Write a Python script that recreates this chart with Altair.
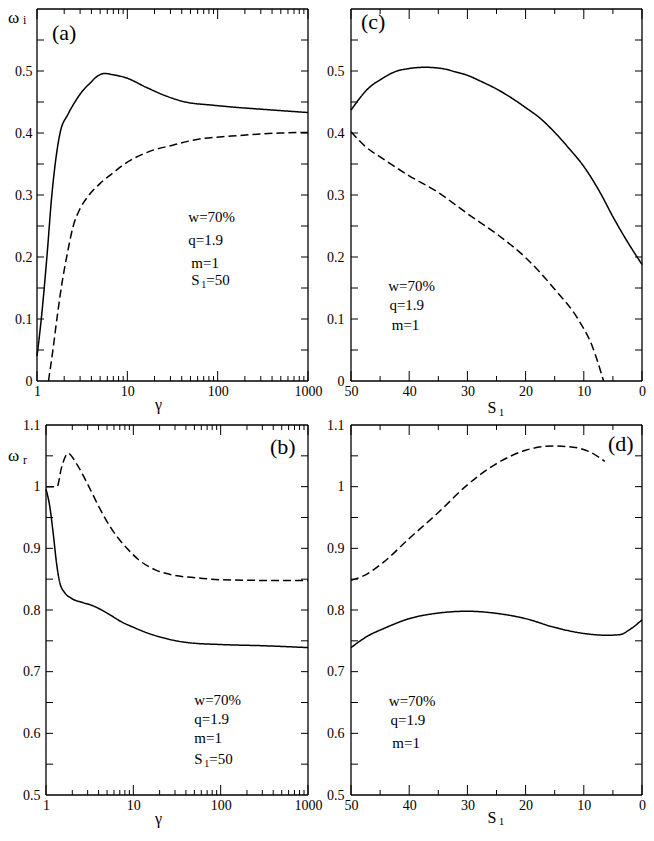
import altair as alt
import pandas as pd

FONT = "Liberation Serif, Times New Roman, serif"

# ---------------- data ----------------
# (a) omega_i versus gamma (S1 = 50)
a_solid_g = [1.0, 1.115, 1.287, 1.46, 1.59, 1.80, 2.2, 2.63, 3.2, 3.84, 4.7, 5.6, 6.9, 9.7, 16, 26.5, 44, 86, 142, 330, 1000]
a_solid_w = [0.04, 0.10, 0.20, 0.30, 0.35, 0.40, 0.43, 0.45, 0.468, 0.48, 0.492, 0.496, 0.494, 0.489, 0.474, 0.46, 0.45, 0.445, 0.442, 0.438, 0.433]
a_dash_g = [1.34, 1.5, 1.66, 1.9, 2.13, 2.52, 3.0, 3.68, 4.94, 7.0, 9.3, 17.4, 31, 61, 142, 500, 1000]
a_dash_w = [0.0, 0.05, 0.10, 0.16, 0.20, 0.25, 0.278, 0.298, 0.318, 0.336, 0.35, 0.37, 0.38, 0.39, 0.395, 0.40, 0.401]

# (b) omega_r versus gamma (S1 = 50)
b_solid_g = [1.0, 1.11, 1.21, 1.32, 1.44, 1.64, 1.95, 2.65, 3.43, 4.86, 7.5, 10, 15, 23.2, 42.6, 100, 315, 1000]
b_solid_w = [0.996, 0.966, 0.924, 0.876, 0.844, 0.828, 0.819, 0.812, 0.807, 0.796, 0.78, 0.772, 0.762, 0.754, 0.747, 0.744, 0.742, 0.739]
b_dash_g = [1.0, 1.34, 1.5, 1.79, 2.22, 2.88, 4.08, 5.78, 8.2, 11.6, 17.9, 27.6, 55.5, 100, 315, 1000]
b_dash_w = [1.0, 1.0, 1.03, 1.054, 1.038, 1.009, 0.966, 0.929, 0.902, 0.881, 0.865, 0.857, 0.852, 0.849, 0.848, 0.848]

# (c) omega_i versus S1
c_solid_s = [50, 46.9, 44.6, 42.4, 40, 37.3, 34.4, 32.2, 30, 27.6, 24.8, 22, 20, 17.4, 15.1, 12.8, 10, 7.2, 5.0, 2.2, 0]
c_solid_w = [0.437, 0.473, 0.488, 0.499, 0.504, 0.506, 0.504, 0.499, 0.493, 0.483, 0.47, 0.454, 0.441, 0.423, 0.402, 0.378, 0.346, 0.304, 0.265, 0.22, 0.188]
c_dash_s = [50, 47.5, 44.6, 40, 35, 30, 24.8, 20, 15, 11, 8.5, 6.6]
c_dash_w = [0.402, 0.378, 0.359, 0.331, 0.304, 0.27, 0.236, 0.199, 0.148, 0.10, 0.055, 0.0]

# (d) omega_r versus S1
d_solid_s = [50, 46.9, 44.6, 40, 35, 30, 25.4, 20, 15.1, 10, 6.0, 3.8, 2.15, 0]
d_solid_w = [0.739, 0.759, 0.769, 0.786, 0.795, 0.798, 0.795, 0.786, 0.772, 0.762, 0.759, 0.76, 0.768, 0.784]
d_dash_s = [50, 47.5, 44.6, 40, 35, 30, 25.4, 20, 15.1, 11.8, 8.9, 6.4]
d_dash_w = [0.848, 0.857, 0.876, 0.916, 0.958, 1.003, 1.035, 1.059, 1.066, 1.064, 1.056, 1.041]

# axis domains, tick values and tick labels
gamma_domain = [1, 1000]
s_domain = [0, 50]
wi_domain = [0, 0.6]
wr_domain = [0.5, 1.1]
log_major = [1, 10, 100, 1000]
log_minor = [2, 3, 4, 5, 6, 7, 8, 9, 20, 30, 40, 50, 60, 70, 80, 90, 200, 300, 400, 500, 600, 700, 800, 900]
s_major = [0, 10, 20, 30, 40, 50]
s_minor = [5, 15, 25, 35, 45]
wi_labels = [0, 0.1, 0.2, 0.3, 0.4, 0.5]
wi_ticks = [0.05, 0.1, 0.15, 0.2, 0.25, 0.3, 0.35, 0.4, 0.45, 0.5, 0.55]
wr_labels = [0.5, 0.6, 0.7, 0.8, 0.9, 1.0, 1.1]
wr_ticks = [0.55, 0.6, 0.65, 0.7, 0.75, 0.8, 0.85, 0.9, 0.95, 1.0, 1.05]

# ---------------- layout (pixels inside the chart) ----------------
TOTAL_W, TOTAL_H = 638, 820
BOX_A = (29, 300, 0, 372)     # left, right, top, bottom
BOX_C = (343, 634, 0, 372)
BOX_B = (38, 300, 416, 786)
BOX_D = (343, 634, 416, 786)


def lines_df(xs1, ys1, xs2, ys2):
    return pd.DataFrame({
        "x": list(xs1) + list(xs2),
        "y": list(ys1) + list(ys2),
        "branch": ["solid"] * len(xs1) + ["dashed"] * len(xs2),
    })


def panel(df, box, xlog, xdom, ydom, x_major, x_minor, y_ticks, x_labels, y_labels,
          xfmt, ylab_pad, notes, texts):
    L, R, T, B = box
    if xlog:
        xs = alt.Scale(type="log", domain=xdom, range=[L, R], nice=False)
    else:
        xs = alt.Scale(domain=xdom, range=[L, R], reverse=True, nice=False, zero=False)
    ys = alt.Scale(domain=ydom, range=[B, T], nice=False, zero=False)

    layers = []
    layers.append(
        alt.Chart(df).mark_line(color="black", strokeWidth=1.5, interpolate="monotone").encode(
            x=alt.X("x:Q", scale=xs,
                    axis=alt.Axis(orient="bottom", offset=B - TOTAL_H, values=x_labels, format=xfmt,
                                  ticks=False, domain=False, grid=False, labelPadding=3,
                                  labelAngle=0, title=None, labelFlush=False, labelOverlap=False,
                                  labelFont=FONT, labelFontSize=14, labelColor="black")),
            y=alt.Y("y:Q", scale=ys,
                    axis=alt.Axis(orient="left", offset=-L, values=y_labels, format="~g",
                                  ticks=False, domain=False, grid=False, labelPadding=ylab_pad,
                                  title=None, labelFlush=False, labelOverlap=False,
                                  labelFont=FONT, labelFontSize=14, labelColor="black")),
            strokeDash=alt.StrokeDash("branch:N",
                                      scale=alt.Scale(domain=["solid", "dashed"], range=[[1, 0], [8, 4]]),
                                      legend=None),
        )
    )

    # frame drawn along the ends of both domains
    frame = pd.DataFrame({
        "x": [xdom[0], xdom[1], xdom[0], xdom[0]],
        "x2": [xdom[0], xdom[1], xdom[1], xdom[1]],
        "y": [ydom[0], ydom[0], ydom[0], ydom[1]],
        "y2": [ydom[1], ydom[1], ydom[0], ydom[1]],
    })
    layers.append(
        alt.Chart(frame).mark_rule(color="black", strokeWidth=1.3).encode(
            x=alt.X("x:Q", scale=xs, axis=None), x2="x2:Q",
            y=alt.Y("y:Q", scale=ys, axis=None), y2="y2:Q")
    )

    def xt(vals, y1, y2):
        return alt.Chart(pd.DataFrame({"v": vals})).mark_rule(color="black", strokeWidth=1).encode(
            x=alt.X("v:Q", scale=xs, axis=None), y=alt.value(y1), y2=alt.value(y2))

    def yt(vals, x1, x2):
        return alt.Chart(pd.DataFrame({"v": vals})).mark_rule(color="black", strokeWidth=1).encode(
            y=alt.Y("v:Q", scale=ys, axis=None), x=alt.value(x1), x2=alt.value(x2))

    layers += [xt(x_major, B, B - 10), xt(x_major, T, T + 10), xt(x_minor, B, B - 5),
               xt(x_minor, T, T + 5), yt(y_ticks, L, L + 7), yt(y_ticks, R, R - 7)]

    for (txt, xv, yv, size, dx, dy) in notes:
        ndf = pd.DataFrame({"t": [txt], "x": [xv], "y": [yv]})
        layers.append(
            alt.Chart(ndf).mark_text(font=FONT, fontSize=size, align="left", baseline="middle",
                                     dx=dx, dy=dy, color="black").encode(
                x=alt.X("x:Q", scale=xs, axis=None),
                y=alt.Y("y:Q", scale=ys, axis=None),
                text="t:N")
        )
    for (txt, px, py, size, align) in texts:
        tdf = pd.DataFrame({"t": [txt]})
        layers.append(
            alt.Chart(tdf).mark_text(font=FONT, fontSize=size, align=align, baseline="middle",
                                     color="black").encode(
                x=alt.value(px), y=alt.value(py), text="t:N")
        )
    return alt.layer(*layers).resolve_axis(x="independent", y="independent")


# (a)
notes_a = [("w=70%", 47.3, 0.264, 15, 0, 0), ("q=1.9", 47.3, 0.227, 15, 0, 0),
           ("m=1", 51.1, 0.191, 15, 0, 0), ("S", 51.1, 0.163, 15, 0, 0),
           ("1", 51.1, 0.163, 10, 10, 5), ("=50", 51.1, 0.163, 15, 15, 0)]
texts_a = [("(a)", 44, 24, 22, "left"), ("ω", 0, 9, 17, "left"), ("i", 15, 11, 12, "left"),
           ("γ", 150.5, 396, 16, "center")]
pa = panel(lines_df(a_solid_g, a_solid_w, a_dash_g, a_dash_w), BOX_A, True, gamma_domain, wi_domain,
           log_major, log_minor, wi_ticks, log_major, wi_labels, "~g", 5, notes_a, texts_a)

# (c)
notes_c = [("w=70%", 43.6, 0.153, 15, 0, 0), ("q=1.9", 43.4, 0.122, 15, 0, 0),
           ("m=1", 43.0, 0.09, 15, 0, 0)]
texts_c = [("(c)", 353, 13, 22, "left"), ("S", 484, 399, 16, "center"),
           ("1", 493.5, 404, 11, "center")]
pc = panel(lines_df(c_solid_s, c_solid_w, c_dash_s, c_dash_w), BOX_C, False, s_domain, wi_domain,
           s_major, s_minor, wi_ticks, s_major, wi_labels, "d", 7, notes_c, texts_c)

# (b)
notes_b = [("w=70%", 49.9, 0.654, 15, 0, 0), ("q=1.9", 49.9, 0.624, 15, 0, 0),
           ("m=1", 49.9, 0.592, 15, 0, 0), ("S", 49.9, 0.559, 15, 0, 0),
           ("1", 49.9, 0.559, 10, 10, 5), ("=50", 49.9, 0.559, 15, 15, 0)]
texts_b = [("(b)", 262, 438, 22, "left"), ("ω", 0, 447, 17, "left"), ("r", 15, 451, 12, "left"),
           ("γ", 150.5, 810, 16, "center")]
pb = panel(lines_df(b_solid_g, b_solid_w, b_dash_g, b_dash_w), BOX_B, True, gamma_domain, wr_domain,
           log_major, log_minor, wr_ticks, log_major, wr_labels, "~g", 6, notes_b, texts_b)

# (d)
notes_d = [("w=70%", 43.5, 0.653, 15, 0, 0), ("q=1.9", 43.2, 0.621, 15, 0, 0),
           ("m=1", 42.9, 0.584, 15, 0, 0)]
texts_d = [("(d)", 600, 435, 22, "left"), ("S", 484, 809, 16, "center"),
           ("1", 493.5, 813, 11, "center")]
pdd = panel(lines_df(d_solid_s, d_solid_w, d_dash_s, d_dash_w), BOX_D, False, s_domain, wr_domain,
            s_major, s_minor, wr_ticks, s_major, wr_labels, "d", 7, notes_d, texts_d)

chart = alt.layer(pa, pc, pb, pdd).resolve_scale(
    x="independent", y="independent"
).resolve_axis(
    x="independent", y="independent"
).properties(
    width=TOTAL_W, height=TOTAL_H, padding=0
).configure_view(stroke=None)

chart.save("out.html", embed_options={"renderer": "svg", "actions": False})
